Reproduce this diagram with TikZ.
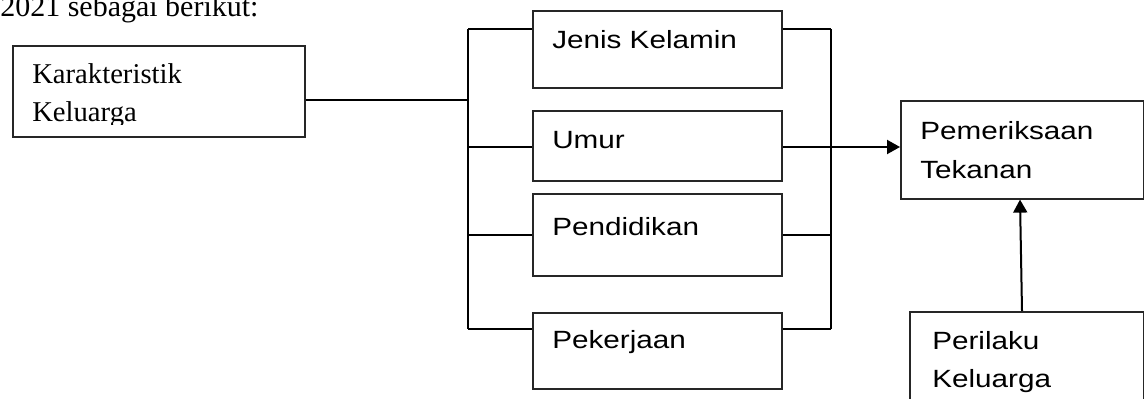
\documentclass[tikz,border=0pt]{standalone}
\usepackage{fontspec}
\setmainfont{Liberation Serif}
\newfontfamily\boxfont[FakeStretch=1.19]{Liberation Sans}
\usetikzlibrary{arrows.meta,calc}

\tikzset{
  boxnode/.style={draw=black!85, line width=1.2pt, rectangle, inner sep=0pt, anchor=north west},
  sanstext/.style={anchor=base west, inner sep=0pt, font=\boxfont\fontsize{18.7}{22}\selectfont},
  seriftext/.style={anchor=base west, inner sep=0pt, font=\fontsize{21.5}{26}\selectfont},
  wire/.style={line width=1.5pt, black},
  arrowwire/.style={wire, -{Triangle[length=9.75pt, width=10.5pt]}}
}

\begin{document}
\begin{tikzpicture}[x=0.75pt, y=-0.75pt]
  \clip (0,0) rectangle (1144,399);

  % lead-in sentence
  \node[anchor=base west, inner sep=0pt, font=\fontsize{22.5}{27}\selectfont] (intro) at (0,17) {2021 sebagai berikut:};

  % family characteristics box
  \node[boxnode, minimum width=292*0.75pt, minimum height=91*0.75pt] (kk) at (12,45) {};
  \begin{scope}
    \clip (12,45) rectangle (304,125);
    \node[seriftext] (kk1) at (32,84) {Karakteristik};
    \node[seriftext] (kk2) at (32,122) {Keluarga};
  \end{scope}

  % four variable boxes
  \node[boxnode, minimum width=249*0.75pt, minimum height=77*0.75pt] (jk) at (532,10) {};
  \node[sanstext] (jkt) at (552,49) {Jenis Kelamin};
  \node[boxnode, minimum width=249*0.75pt, minimum height=70*0.75pt] (um) at (532,110) {};
  \node[sanstext] (umt) at (552,148) {Umur};
  \node[boxnode, minimum width=249*0.75pt, minimum height=82*0.75pt] (pd) at (532,193) {};
  \node[sanstext] (pdt) at (552,235) {Pendidikan};
  \node[boxnode, minimum width=249*0.75pt, minimum height=76*0.75pt] (pk) at (532,312) {};
  \node[sanstext] (pkt) at (552,348) {Pekerjaan};

  % outcome box
  \node[boxnode, minimum width=243*0.75pt, minimum height=98*0.75pt] (pm) at (900,100) {};
  \node[sanstext] (pmt1) at (920,140) {Pemeriksaan};
  \node[sanstext] (pmt2) at (920,178) {Tekanan};

  % behaviour box (runs past the lower edge)
  \node[boxnode, minimum width=234*0.75pt, minimum height=120*0.75pt] (pr) at (909,311) {};
  \node[sanstext] (prt1) at (932,349) {Perilaku};
  \node[sanstext] (prt2) at (932,387) {Keluarga};

  % bus bars on both sides of the variable boxes
  \coordinate (lt) at (468,29);
  \coordinate (lb) at (468,329);
  \coordinate (rt) at (831,29);
  \coordinate (rb) at (831,329);
  \draw[wire] (lt) -- (lb);
  \draw[wire] (rt) -- (rb);

  % characteristic box to left bus
  \draw[wire] (kk.east |- 0,100) -- (lt |- 0,100);

  % branches into and out of each variable box
  \draw[wire] (lt) -- (jk.west |- lt);
  \draw[wire] (jk.east |- rt) -- (rt);
  \draw[wire] (lt |- 0,147) -- (um.west |- 0,147);
  \draw[wire] (lt |- 0,235) -- (pd.west |- 0,235);
  \draw[wire] (pd.east |- 0,235) -- (rt |- 0,235);
  \draw[wire] (lb) -- (pk.west |- lb);
  \draw[wire] (pk.east |- rb) -- (rb);

  % arrows into the outcome box
  \draw[arrowwire] (um.east |- 0,147) -- (pm.west |- 0,147);
  \draw[arrowwire] (pr.north -| 1022,0) -- (pm.south -| 1020,0);
\end{tikzpicture}
\end{document}
